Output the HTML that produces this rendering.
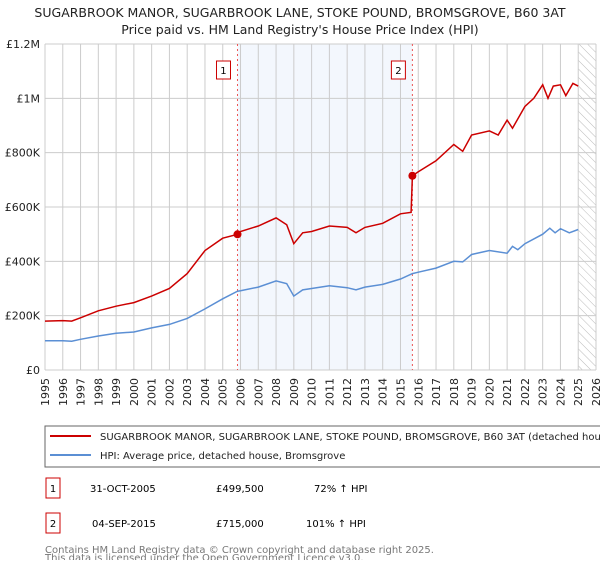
<!DOCTYPE html>
<html><head><meta charset="utf-8"><style>
body{margin:0;background:#fff;font-family:"DejaVu Sans","Liberation Sans",sans-serif;}
svg text{font-family:"DejaVu Sans","Liberation Sans",sans-serif;}
</style></head><body>
<svg id="c" width="600" height="560" xmlns="http://www.w3.org/2000/svg">
<text x="300" y="17" text-anchor="middle" font-size="12.5" fill="#222">SUGARBROOK MANOR, SUGARBROOK LANE, STOKE POUND, BROMSGROVE, B60 3AT</text>
<text x="300" y="34" text-anchor="middle" font-size="12.5" fill="#222">Price paid vs. HM Land Registry's House Price Index (HPI)</text>
<g id="plot"></g>
<rect x="45" y="426" width="560" height="41" fill="none" stroke="#666"/>
<line x1="50" y1="436" x2="91" y2="436" stroke="#cc0000" stroke-width="2"/>
<text x="100" y="440" font-size="10" fill="#222">SUGARBROOK MANOR, SUGARBROOK LANE, STOKE POUND, BROMSGROVE, B60 3AT (detached house)</text>
<line x1="50" y1="455" x2="91" y2="455" stroke="#5b8fd4" stroke-width="2"/>
<text x="100" y="459" font-size="10" fill="#222">HPI: Average price, detached house, Bromsgrove</text>
<g>
<rect x="46" y="478" width="14" height="20" fill="none" stroke="#cc0000"/><text x="53" y="492" text-anchor="middle" font-size="10">1</text>
<text x="90" y="492" font-size="10">31-OCT-2005</text><text x="216" y="492" font-size="10">£499,500</text><text x="314" y="492" font-size="10">72% ↑ HPI</text></g>
<g>
<rect x="46" y="513" width="14" height="20" fill="none" stroke="#cc0000"/><text x="53" y="527" text-anchor="middle" font-size="10">2</text>
<text x="92" y="527" font-size="10">04-SEP-2015</text><text x="216" y="527" font-size="10">£715,000</text><text x="306" y="527" font-size="10">101% ↑ HPI</text></g>
<text x="45" y="553" font-size="10" fill="#777">Contains HM Land Registry data © Crown copyright and database right 2025.</text>
<text x="45" y="564" font-size="10" fill="#777" dy="-3">This data is licensed under the Open Government Licence v3.0.</text>
</svg>
<script>
const yTicks=[0,200,400,600,800,1000,1200];
const yTickLabels=["£0","£200K","£400K","£600K","£800K","£1M","£1.2M"];
const years=[1995,1996,1997,1998,1999,2000,2001,2002,2003,2004,2005,2006,2007,2008,2009,2010,2011,2012,2013,2014,2015,2016,2017,2018,2019,2020,2021,2022,2023,2024,2025,2026];
const hpiX=[1995,1996,1996.5,1997,1998,1999,2000,2001,2002,2003,2004,2005,2005.83,2006,2007,2008,2008.6,2009,2009.5,2010,2011,2012,2012.5,2013,2014,2015,2015.67,2016,2017,2018,2018.5,2019,2020,2021,2021.3,2021.6,2022,2023,2023.4,2023.7,2024,2024.5,2025];
const hpiY=[108,108,106,113,125,135,140,155,168,190,225,262,290,292,305,328,318,272,295,300,310,303,295,305,315,335,355,360,375,400,398,425,440,430,455,443,465,500,522,505,520,505,517];
const redX=[1995,1996,1996.5,1997,1998,1999,2000,2001,2002,2003,2004,2005,2005.83,2006,2007,2008,2008.6,2009,2009.5,2010,2011,2012,2012.5,2013,2014,2015,2015.6,2015.67,2016,2017,2018,2018.5,2019,2020,2020.5,2021,2021.3,2022,2022.5,2023,2023.3,2023.6,2024,2024.3,2024.7,2025];
const redY=[180,182,180,192,218,235,248,272,300,355,440,485,499.5,510,530,560,535,465,505,510,530,525,505,525,540,575,580,715,730,770,830,805,865,880,865,920,890,970,1000,1050,1000,1045,1050,1010,1055,1045];
const sales=[{n:"1",x:2005.83,y:499.5},{n:"2",x:2015.67,y:715}];
const NS="http://www.w3.org/2000/svg";
const L=45,R=596,T=44,B=370;
const xs=v=>L+(v-1995)/31*(R-L);
const ys=v=>B-v/1200*(B-T);
const g=document.getElementById('plot');
function mk(t,a){const e=document.createElementNS(NS,t);for(const k in a)e.setAttribute(k,a[k]);g.appendChild(e);return e;}
let e=mk('rect',{x:xs(sales[0].x),y:T,width:xs(sales[1].x)-xs(sales[0].x),height:B-T,fill:'#eef3fc',opacity:0.7});


const defs=mk('defs',{});
defs.innerHTML='<pattern id="h" width="6" height="6" patternUnits="userSpaceOnUse" patternTransform="rotate(-45)"><line x1="0" y1="0" x2="0" y2="6" stroke="#bbb" stroke-width="1"/></pattern>';
e=mk('rect',{x:xs(2025),y:T,width:R-xs(2025),height:B-T,fill:'url(#h)'});


years.forEach(y=>{
 const l=mk('line',{x1:xs(y),x2:xs(y),y1:T,y2:B,stroke:'#ccc'});
 
 
 const t=mk('text',{x:0,y:0,'font-size':11,fill:'#222','text-anchor':'end',transform:`translate(${xs(y)+4},${B+8}) rotate(-90)`});
 t.textContent=y;
 
 
});
yTicks.forEach((v,i)=>{
 const l=mk('line',{x1:L,x2:R,y1:ys(v),y2:ys(v),stroke:'#ccc'});
 
 
 const t=mk('text',{x:L-5,y:ys(v)+4,'font-size':11,fill:'#222','text-anchor':'end'});
 t.textContent=yTickLabels[i];
 
 
});
sales.forEach(s=>{
 const l=mk('line',{x1:xs(s.x),x2:xs(s.x),y1:T,y2:B,stroke:'#e55','stroke-dasharray':'2,3'});
 
 
 const r=mk('rect',{x:xs(s.x)-21,y:61,width:14,height:18,fill:'#fff',stroke:'#cc0000'});
 
 
 const t=mk('text',{x:xs(s.x)-14,y:74,'font-size':10,'text-anchor':'middle'});
 t.textContent=s.n;
 
 
});
const path=(X,Y)=>X.map((x,i)=>(i?'L':'M')+xs(x).toFixed(1)+','+ys(Y[i]).toFixed(1)).join('');
e=mk('path',{d:path(hpiX,hpiY),fill:'none',stroke:'#5b8fd4','stroke-width':1.5});


e=mk('path',{d:path(redX,redY),fill:'none',stroke:'#cc0000','stroke-width':1.5});


sales.forEach(s=>{
 const c=mk('circle',{cx:xs(s.x),cy:ys(s.y),r:4,fill:'#cc0000'});
 
 
});
</script>
</body></html>
